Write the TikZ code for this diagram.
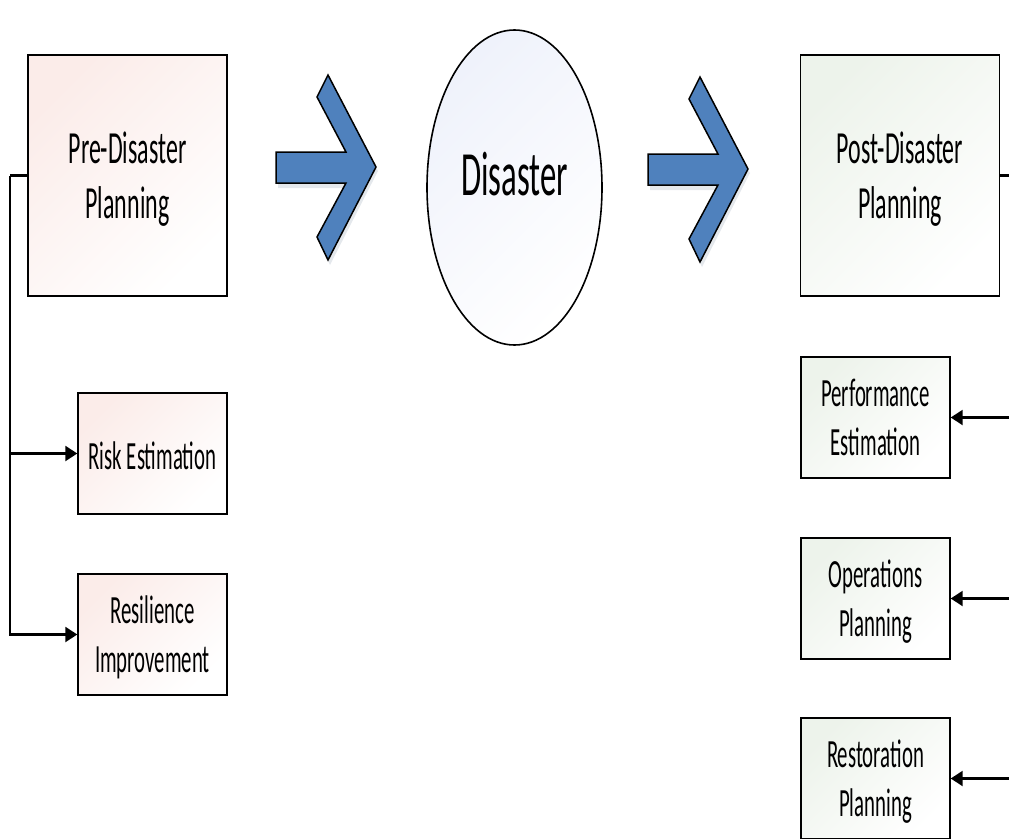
\documentclass[tikz,border=0pt]{standalone}
\usepackage{fontspec}
\setmainfont{Carlito}[FakeStretch=0.52]
\usetikzlibrary{shapes.geometric,arrows.meta}
\definecolor{preC}{RGB}{251,236,233}
\definecolor{postC}{RGB}{237,243,235}
\definecolor{disC}{RGB}{239,242,251}
\definecolor{chevC}{RGB}{79,129,189}
\newcommand{\tstrut}[1]{\rule{0pt}{#1pt}}
\newcommand{\bstrut}[1]{\rule[-#1pt]{0pt}{#1pt}}
\tikzset{
  bigbox/.style={draw=black, line width=1.6pt, minimum width=199pt, minimum height=241pt, inner sep=0pt, align=center,
    font=\fontsize{46}{55}\selectfont},
  smallbox/.style={draw=black, line width=1.4pt, minimum width=149pt, minimum height=121pt, inner sep=0pt, align=center,
    font=\fontsize{40}{49}\selectfont},
  preshade/.style={top color=preC, middle color=preC!20!white, bottom color=white, shading angle=45},
  postshade/.style={top color=postC, middle color=postC!20!white, bottom color=white, shading angle=45},
  conn/.style={line width=2.2pt},
  arr/.style={line width=2.2pt, -{Triangle[length=12pt,width=15pt]}},
  chev/.style={fill=chevC, draw=black, line width=1.5pt, line join=miter},
  chevshadow/.style={fill=chevC!40!gray, opacity=0.18},
}
\begin{document}
\begin{tikzpicture}[x=1pt,y=-1pt]
\useasboundingbox (0,0) rectangle (1009,838);
% boxes
\node[bigbox, preshade] (pre) at (127.5,175.5) {\tstrut{45}Pre-Disaster\\Planning\bstrut{15}};
\node[bigbox, postshade] (post) at (900,175.5) {\tstrut{45}Post-Disaster\\Planning\bstrut{15}};
\node[smallbox, preshade] (risk) at (152.5,453.5) {\tstrut{40}Risk Estimation\bstrut{9}};
\node[smallbox, preshade] (resil) at (152.5,634.5) {\tstrut{40}Resilience\\Improvement\bstrut{13}};
\node[smallbox, postshade] (perf) at (875.5,417.5) {\tstrut{40}Performance\\Estimation\bstrut{13}};
\node[smallbox, postshade] (oper) at (875.5,598.5) {\tstrut{40}Operations\\Planning\bstrut{13}};
\node[smallbox, postshade] (rest) at (875.5,778.5) {\tstrut{40}Restoration\\Planning\bstrut{13}};
% disaster ellipse
\node[ellipse, draw=black, line width=1.6pt, minimum width=175pt, minimum height=315pt, inner sep=0pt,
  top color=disC, middle color=disC!20!white, bottom color=white, shading angle=45,
  font=\fontsize{63}{70}\selectfont, text height=40pt, text depth=25pt] (dis) at (514.5,187.5) {Disaster};
% chevrons
\foreach \dx/\dy in {0/0, 372/2}{
  \begin{scope}[shift={(\dx,\dy)}]
    \fill[chevshadow] (278,156) -- (348,156) -- (319,101) -- (330,79) -- (378,171) -- (330,265) -- (319,242) -- (348,188) -- (278,188) -- cycle;
    \draw[chev] (276,152) -- (346,152) -- (317,97) -- (328,75) -- (376,167) -- (328,260) -- (317,237) -- (346,183) -- (276,183) -- cycle;
  \end{scope}
}
% left connectors
\coordinate (lj) at (10,175.5);
\draw[conn] (pre.west) -- (lj);
\draw[arr] (lj) |- (risk.west);
\draw[arr] (lj) |- (resil.west);
% right connectors
\coordinate (rpost) at (1012,175.5);
\coordinate (rperf) at (1012,417.5);
\coordinate (roper) at (1012,598.5);
\coordinate (rrest) at (1012,778.5);
\draw[conn] (post.east) -- (rpost);
\draw[arr] (rperf) -- (perf.east);
\draw[arr] (roper) -- (oper.east);
\draw[arr] (rrest) -- (rest.east);
\end{tikzpicture}
\end{document}
